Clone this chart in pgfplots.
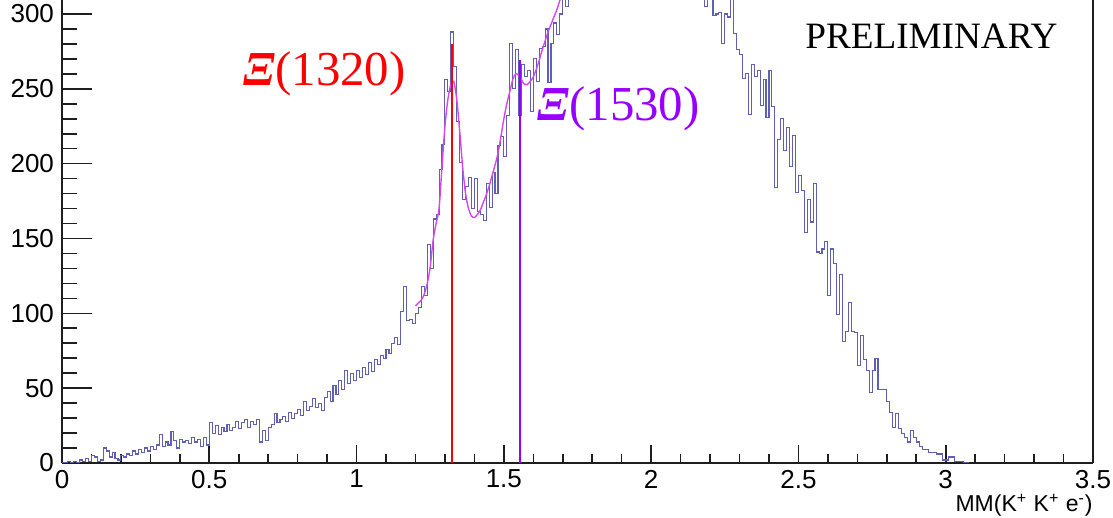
\documentclass[border=0pt]{standalone}
\usepackage{fontspec}
\setmainfont{Liberation Sans}
\newfontfamily\seriffont{Liberation Serif}
\usepackage{pgfplots}
\usepackage{pgfplotstable}
\pgfplotsset{compat=1.18}
\definecolor{histc}{RGB}{95,95,180}
\definecolor{fitc}{RGB}{215,70,235}
\definecolor{xired}{RGB}{255,0,0}
\definecolor{xiviolet}{RGB}{150,0,255}
\definecolor{axc}{RGB}{30,30,30}

\pgfplotstableread{
x y
0.00 0
0.01 0
0.02 1
0.03 0
0.04 1
0.05 0
0.06 2
0.07 1
0.08 3
0.09 1
0.10 5
0.11 4
0.12 1
0.13 2
0.14 10
0.15 8
0.16 4
0.17 7
0.18 3
0.19 2
0.20 5
0.21 4
0.22 6
0.23 5
0.24 8
0.25 6
0.26 9
0.27 7
0.28 10
0.29 8
0.30 11
0.31 9
0.32 12
0.33 19
0.34 11
0.35 14
0.36 12
0.37 21
0.38 15
0.39 10
0.40 16
0.41 14
0.42 15
0.43 13
0.44 17
0.45 14
0.46 16
0.47 11
0.48 17
0.49 12
0.50 27
0.51 20
0.52 25
0.53 19
0.54 24
0.55 21
0.56 26
0.57 22
0.58 24
0.59 28
0.60 23
0.61 27
0.62 29
0.63 24
0.64 28
0.65 26
0.66 29
0.67 14
0.68 22
0.69 15
0.70 24
0.71 26
0.72 33
0.73 27
0.74 29
0.75 31
0.76 28
0.77 34
0.78 30
0.79 33
0.80 36
0.81 32
0.82 41
0.83 35
0.84 38
0.85 43
0.86 37
0.87 40
0.88 35
0.89 44
0.90 48
0.91 41
0.92 52
0.93 46
0.94 55
0.95 49
0.96 62
0.97 53
0.98 60
0.99 55
1.00 62
1.01 57
1.02 64
1.03 59
1.04 67
1.05 61
1.06 69
1.07 66
1.08 72
1.09 70
1.10 76
1.11 73
1.12 80
1.13 84
1.14 79
1.15 101
1.16 118
1.17 95
1.18 96
1.19 93
1.20 100
1.21 104
1.22 118
1.23 112
1.24 146
1.25 130
1.26 163
1.27 166
1.28 196
1.29 213
1.30 256
1.31 248
1.32 288
1.33 265
1.34 228
1.35 201
1.36 176
1.37 185
1.38 191
1.39 170
1.40 190
1.41 168
1.42 166
1.43 162
1.44 187
1.45 171
1.46 194
1.47 180
1.48 212
1.49 218
1.50 205
1.51 232
1.52 280
1.53 250
1.54 276
1.55 232
1.56 266
1.57 258
1.58 262
1.59 235
1.60 270
1.61 255
1.62 277
1.63 278
1.64 290
1.65 254
1.66 280
1.67 294
1.68 286
1.69 300
1.70 312
1.71 305
1.72 318
1.73 320
1.74 326
1.75 322
1.76 331
1.77 328
1.78 336
1.79 333
1.80 340
1.81 336
1.82 343
1.83 339
1.84 345
1.85 342
1.86 348
1.87 344
1.88 350
1.89 346
1.90 352
1.91 348
1.92 353
1.93 349
1.94 354
1.95 350
1.96 352
1.97 348
1.98 351
1.99 347
2.00 350
2.01 345
2.02 348
2.03 343
2.04 345
2.05 340
2.06 342
2.07 336
2.08 338
2.09 332
2.10 333
2.11 327
2.12 328
2.13 322
2.14 320
2.15 316
2.16 318
2.17 312
2.18 305
2.19 314
2.20 311
2.21 299
2.22 300
2.23 301
2.24 280
2.25 300
2.26 298
2.27 312
2.28 287
2.29 276
2.30 273
2.31 257
2.32 260
2.33 233
2.34 266
2.35 258
2.36 262
2.37 239
2.38 256
2.39 231
2.40 262
2.41 238
2.42 184
2.43 216
2.44 230
2.45 209
2.46 224
2.47 198
2.48 219
2.49 181
2.50 192
2.51 182
2.52 154
2.53 176
2.54 161
2.55 187
2.56 141
2.57 140
2.58 143
2.59 148
2.60 112
2.61 143
2.62 133
2.63 99
2.64 126
2.65 81
2.66 88
2.67 107
2.68 88
2.69 87
2.70 65
2.71 85
2.72 69
2.73 62
2.74 47
2.75 62
2.76 70
2.77 49
2.78 49
2.79 49
2.80 41
2.81 34
2.82 24
2.83 33
2.84 23
2.85 20
2.86 17
2.87 14
2.88 22
2.89 17
2.90 14
2.91 11
2.92 9
2.93 9
2.94 7
2.95 7
2.96 7
2.97 6
2.98 6
2.99 2
3.00 2
3.01 4
3.02 4
3.03 1
3.04 1
3.05 1
3.06 0
3.07 0
3.08 0
}\histtable

\pgfplotstableread{
x y
1.20 105
1.22 109
1.23 113
1.24 120
1.25 131
1.26 149
1.27 160
1.28 170
1.29 198
1.30 225
1.31 243
1.32 253
1.33 255
1.34 243
1.35 222
1.36 198
1.37 180
1.38 170
1.39 165
1.40 164
1.41 166
1.42 169
1.43 174
1.44 179
1.45 185
1.46 192
1.47 199
1.48 207
1.49 218
1.50 230
1.51 240
1.52 248
1.53 256
1.54 260
1.55 259
1.56 256
1.57 253
1.58 253
1.59 255
1.60 258
1.61 263
1.62 269
1.63 276
1.64 282
1.65 288
1.66 293
1.67 298
1.68 303
1.69 309
1.70 314
1.71 318
}\fittable

\begin{document}
\begin{tikzpicture}[x=1pt,y=1pt]
\useasboundingbox (-31,-27.5) rectangle (525.5,231.5);
% y axis (ticks and labels)
\begin{axis}[
  at={(0,0)}, anchor=south west, scale only axis,
  width=515.5pt, height=231.5pt,
  xmin=0, xmax=3.5, ymin=0, ymax=309.35,
  axis y line*=left, axis x line=none,
  axis line style={axc, line width=0.8pt},
  tick align=inside,
  ytick={0,50,100,150,200,250,300},
  minor y tick num=4,
  major tick length=15pt, minor tick length=7.5pt,
  every tick/.style={axc, line width=0.8pt},
  yticklabel style={font=\fontsize{13}{15}\selectfont, xshift=-0.5pt},
  /pgf/number format/assume math mode=true,
  xtick=\empty,
]
\end{axis}
% main axis with x ticks and data
\begin{axis}[
  at={(0,0)}, anchor=south west, scale only axis,
  width=515.5pt, height=231.5pt,
  xmin=0, xmax=3.5, ymin=0, ymax=309.35,
  axis x line*=bottom, axis y line=none,
  axis line style={axc, line width=0.8pt},
  tick align=inside,
  xtick={0,0.5,1,1.5,2,2.5,3,3.5},
  xticklabels={0,0.5,1,1.5,2,2.5,3,3.5},
  minor x tick num=4,
  major tick length=9pt, minor tick length=4.5pt,
  every tick/.style={axc, line width=0.8pt},
  xticklabel style={font=\fontsize{13}{15}\selectfont, yshift=0pt},
  ytick=\empty,
  clip mode=individual,
]
\addplot[histc, line width=0.55pt, const plot mark left] table[x=x,y=y]{\histtable};
\addplot[fitc, line width=0.7pt, smooth] table[x=x,y=y]{\fittable};
\addplot[xired, line width=1.1pt] coordinates {(1.325,0) (1.325,280)};
\addplot[xiviolet, line width=1.1pt] coordinates {(1.555,0) (1.555,269)};
\draw[axc, line width=0.8pt] (rel axis cs:1,0) -- (rel axis cs:1,1);
\node[anchor=base west, inner sep=0pt, text=xired, font=\seriffont\fontsize{24.4}{27}\selectfont] at (axis cs:0.614,252.5) {\textbf{\textit{Ξ}}(1320)};
\node[anchor=base west, inner sep=0pt, text=xiviolet, font=\seriffont\fontsize{24.4}{27}\selectfont] at (axis cs:1.612,229) {\textbf{\textit{Ξ}}(1530)};
\node[anchor=base west, inner sep=0pt, font=\seriffont\fontsize{18.6}{21}\selectfont] at (axis cs:2.522,277) {PRELIMINARY};
\node[anchor=base east, inner sep=0pt, font=\fontsize{11.5}{13}\selectfont] at ([yshift=-24.5pt]rel axis cs:1,0) {MM(K\textsuperscript{+} K\textsuperscript{+} e\textsuperscript{-})};
\end{axis}
\end{tikzpicture}
\end{document}
